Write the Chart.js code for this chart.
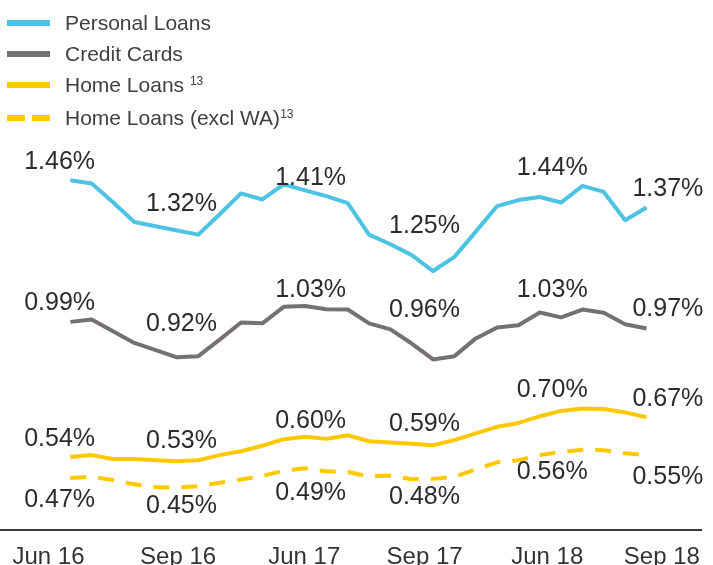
<!DOCTYPE html>
<html><head><meta charset="utf-8">
<script src="https://cdn.jsdelivr.net/npm/chart.js@4.4.1/dist/chart.umd.min.js"></script>
<style>
html,body{margin:0;padding:0;background:#fff;}
#wrap{position:relative;width:713px;height:565px;overflow:hidden;}
canvas{position:absolute;left:0;top:0;}
#legend{position:absolute;left:0;top:0;width:713px;font-family:"Liberation Sans",Arial,sans-serif;color:#404040;font-size:21px;}
.row{position:absolute;left:0;height:24px;line-height:24px;white-space:nowrap;}
.sw{position:absolute;left:7px;top:9px;width:43px;height:6px;}
.tx{position:absolute;left:65px;top:0;}
.tx sup{font-size:12px;vertical-align:baseline;position:relative;top:-7px;}
</style></head><body>
<div id="wrap"><canvas id="c" width="713" height="565"></canvas><div id="legend"></div></div>
<script>
// ---- data ----
const months = ['Jun 16','Jul 16','Aug 16','Sep 16','Oct 16','Nov 16','Dec 16',
  'Jan 17','Feb 17','Mar 17','Apr 17','May 17','Jun 17','Jul 17','Aug 17','Sep 17','Oct 17','Nov 17','Dec 17',
  'Jan 18','Feb 18','Mar 18','Apr 18','May 18','Jun 18','Jul 18','Aug 18','Sep 18'];
const personalLoans = [1.460,1.449,1.387,1.321,1.307,1.293,1.279,1.347,1.416,1.396,1.446,1.426,1.407,1.384,
  1.279,1.247,1.211,1.158,1.205,1.289,1.374,1.394,1.404,1.386,1.441,1.421,1.327,1.369];
const creditCards = [0.989,0.997,0.958,0.919,0.895,0.871,0.875,0.930,0.987,0.984,1.039,1.042,1.031,1.030,
  0.984,0.964,0.917,0.864,0.875,0.934,0.970,0.978,1.020,1.004,1.030,1.019,0.981,0.967];
const homeLoans = [0.540,0.546,0.533,0.533,0.529,0.526,0.529,0.546,0.559,0.577,0.599,0.607,0.600,0.612,
  0.592,0.588,0.584,0.579,0.596,0.618,0.640,0.653,0.675,0.693,0.701,0.699,0.688,0.672];
const homeLoansExWA = [0.470,0.474,0.463,0.449,0.440,0.438,0.443,0.454,0.465,0.477,0.494,0.502,0.492,0.490,
  0.475,0.478,0.466,0.467,0.474,0.499,0.522,0.529,0.546,0.557,0.564,0.562,0.552,0.546];
const seriesNames = ['Personal Loans','Credit Cards','Home Loans','Home Loans (excl WA)'];
const seriesNotes = ['','',' ','']; // separator before footnote
const footnote = ['','','13','13'];
const tickLabels = ['Jun 16','Sep 16','Jun 17','Sep 17','Jun 18','Sep 18'];
const labelledMonths = ['Jun 16','Sep 16','Jun 17','Sep 17','Jun 18','Sep 18'];

// ---- layout / style ----
const FONT = '"Liberation Sans", Arial, sans-serif';
const colors = ['#4CC3E2','#767171','#FFC800','#FFC800'];
const tickAt = [-1.02, 5.05, 10.96, 16.6, 22.35, 27.72];      // x-axis label placement (month-index units)
const labelAt = [-0.5, 5.21, 11.26, 16.6, 22.58, 28.0];       // value-label column placement
const labelOffsets = [-18, -19, -18, 22];                       // px above(-)/below(+) line

const seriesData = [personalLoans, creditCards, homeLoans, homeLoansExWA];
const datasets = seriesData.map((arr, i) => ({
  label: seriesNames[i],
  data: arr.map((v, k) => ({x: k, y: v})),
  borderColor: colors[i],
  backgroundColor: colors[i],
  borderWidth: 4,
  borderDash: i === 3 ? [16, 12] : [],
  borderCapStyle: 'butt',
  borderJoinStyle: 'round',
  pointRadius: 0,
  tension: 0,
  fill: false
}));

const valueLabels = {
  id: 'valueLabels',
  afterDatasetsDraw(chart) {
    const ctx = chart.ctx, xs = chart.scales.x;
    ctx.save();
    ctx.font = '25px ' + FONT;
    ctx.fillStyle = '#2b2b2b';
    ctx.textAlign = 'center';
    ctx.textBaseline = 'middle';
    chart.data.datasets.forEach((ds, di) => {
      const meta = chart.getDatasetMeta(di);
      labelledMonths.forEach((m, k) => {
        const idx = months.indexOf(m);
        const pt = meta.data[idx];
        const x = xs.getPixelForValue(labelAt[k]);
        ctx.fillText(seriesData[di][idx].toFixed(2) + '%', x, pt.y + labelOffsets[di]);
      });
    });
    ctx.restore();
  }
};

new Chart(document.getElementById('c'), {
  type: 'line',
  data: {datasets},
  options: {
    responsive: false,
    animation: false,
    layout: {padding: {top: 139, right: 10, left: 0, bottom: 0}},
    plugins: {legend: {display: false}, tooltip: {enabled: false}},
    scales: {
      x: {
        type: 'linear', min: -3.235, max: 29.585,
        grid: {display: false, drawTicks: false},
        border: {display: true, color: '#3a3a3a', width: 2},
        afterBuildTicks: s => { s.ticks = tickAt.map(v => ({value: v})); },
        afterFit: s => { s.height = 35; },
        ticks: {
          autoSkip: false, maxRotation: 0, minRotation: 0, padding: 12.6,
          color: '#333', font: {family: FONT, size: 24},
          callback: (v, i) => tickLabels[i]
        }
      },
      y: {display: false, min: 0.297, max: 1.597}
    }
  },
  plugins: [valueLabels]
});

// ---- legend (HTML, real text) ----
const legendCenters = [22.5, 53.5, 85, 118];
const leg = document.getElementById('legend');
seriesNames.forEach((n, i) => {
  const row = document.createElement('div');
  row.className = 'row';
  row.style.top = (legendCenters[i] - 12) + 'px';
  const sw = document.createElement('div');
  sw.className = 'sw';
  if (i === 3) {
    sw.style.background = `linear-gradient(to right, ${colors[i]} 0 18px, transparent 18px 25px, ${colors[i]} 25px 43px)`;
  } else {
    sw.style.background = colors[i];
  }
  const tx = document.createElement('div');
  tx.className = 'tx';
  tx.appendChild(document.createTextNode(n + seriesNotes[i]));
  if (footnote[i]) {
    const s = document.createElement('sup');
    s.textContent = footnote[i];
    tx.appendChild(s);
  }
  row.appendChild(sw);
  row.appendChild(tx);
  leg.appendChild(row);
});
</script>
</body></html>
